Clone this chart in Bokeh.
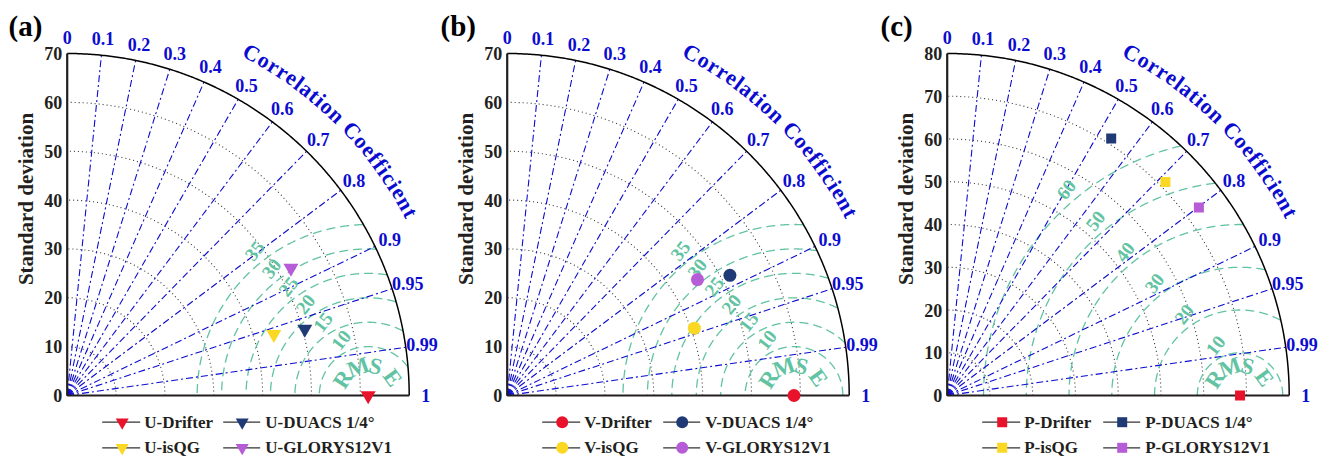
import numpy as np
from bokeh.plotting import figure
from bokeh.layouts import row
from bokeh.models import Range1d
from bokeh.core.properties import value
from bokeh.embed import file_html
from bokeh.resources import INLINE

# ---------------- data ----------------
u_names = ["U-Drifter", "U-DUACS 1/4°", "U-isQG", "U-GLORYS12V1"]
u_std = [61.6, 50.5, 44.1, 52.7]
u_corr = [1.0, 0.963, 0.959, 0.869]

v_names = ["V-Drifter", "V-DUACS 1/4°", "V-isQG", "V-GLORYS12V1"]
v_std = [58.7, 51.8, 40.7, 45.6]
v_corr = [1.0, 0.880, 0.941, 0.854]

p_names = ["P-Drifter", "P-DUACS 1/4°", "P-isQG", "P-GLORYS12V1"]
p_std = [68.5, 71.3, 71.4, 73.5]
p_corr = [1.0, 0.538, 0.715, 0.801]

series_colors = ["#e8132b", "#1f3a75", "#fbd824", "#b65cd6"]

corr_ticks = [0.0, 0.1, 0.2, 0.3, 0.4, 0.5, 0.6, 0.7, 0.8, 0.9, 0.95, 0.99, 1.0]
corr_labels = ["0", "0.1", "0.2", "0.3", "0.4", "0.5", "0.6", "0.7", "0.8", "0.9", "0.95", "0.99", "1"]

std_ticks_uv = [0, 10, 20, 30, 40, 50, 60, 70]
std_ticks_p = [0, 10, 20, 30, 40, 50, 60, 70, 80]

rmse_uv = [10, 15, 20, 25, 30, 35]
rmse_p = [10, 20, 30, 40, 50, 60]

panel_titles = ["(a)", "(b)", "(c)"]
axis_title = "Standard deviation"
arc_title = "Correlation Coefficient"
rmse_title = "RMS E"

# ---------------- style ----------------
FONT = value("Liberation Serif")
BLUE = "#0c0cd0"
GREEN = "#62c3a2"
BLACK = "#231f20"
H = 456
OX, OY = 66.7, 395.0      # origin in screen px
RPX = 342.0               # outer radius in px

# Times-bold advance widths (per 1000 em)
CW = {"C": 722, "o": 500, "r": 444, "e": 444, "l": 278, "a": 500, "t": 333,
      "i": 278, "n": 556, " ": 250, "f": 333, "c": 444, "R": 722, "M": 944,
      "S": 556, "E": 667}


def curved_text(p, text, s, cx, cy, r_px, start_deg, font_px, spacing, color):
    cum = 0.0
    centers = []
    for ch in text:
        w = CW.get(ch, 500) / 1000.0 * font_px
        centers.append(cum + w / 2)
        cum += w + spacing
    xs, ys, angs, chars = [], [], [], []
    for ch, c in zip(text, centers):
        if ch == " ":
            continue
        phi = np.radians(start_deg) - (c - centers[0]) / r_px
        xs.append(cx + r_px / s * np.cos(phi))
        ys.append(cy + r_px / s * np.sin(phi))
        angs.append(phi - np.pi / 2)
        chars.append(ch)
    p.text(xs, ys, text=chars, angle=angs, text_font=FONT, text_font_style="bold",
           text_font_size=f"{font_px}px", text_color=color, text_align="center",
           text_baseline="middle")


def make_panel(names, stds, corrs, marker, msize, lmsize, std_ticks, rmse_levels,
               title, width, title_dx):
    R = std_ticks[-1]
    s = RPX / R
    p = figure(width=width, height=H, output_backend="svg", toolbar_location=None,
               x_range=Range1d(-OX / s, (width - OX) / s),
               y_range=Range1d(-(H - OY) / s, OY / s),
               x_axis_location=None, y_axis_location=None, min_border=0,
               outline_line_color=None, background_fill_color="white",
               border_fill_color="white")
    p.grid.visible = False

    th = np.linspace(0, np.pi / 2, 300)
    # std dotted arcs
    for v in std_ticks[1:-1]:
        p.line(v * np.cos(th), v * np.sin(th), line_color="#333333", line_width=1.1,
               line_dash="1 3")
    # RMSE arcs
    ref = stds[0]
    phi = np.linspace(0, np.pi, 900)
    for r in rmse_levels:
        x = ref + r * np.cos(phi)
        y = r * np.sin(phi)
        inside = (x * x + y * y <= R * R) & (x >= 0)
        xs, ys = [], []
        cur_x, cur_y = [], []
        for xi, yi, ok in zip(x, y, inside):
            if ok:
                cur_x.append(xi)
                cur_y.append(yi)
            elif cur_x:
                xs.append(cur_x)
                ys.append(cur_y)
                cur_x, cur_y = [], []
        if cur_x:
            xs.append(cur_x)
            ys.append(cur_y)
        p.multi_line(xs, ys, line_color=GREEN, line_width=1.3, line_dash="9 5")
    # correlation lines
    for c in corr_ticks[1:-1]:
        a = np.arccos(c)
        p.line([0, R * np.cos(a)], [0, R * np.sin(a)], line_color=BLUE,
               line_width=1.1, line_dash="7 3 2 3")
    # outer arc and axes
    p.line(R * np.cos(th), R * np.sin(th), line_color="black", line_width=1.5)
    p.line([0, 0], [0, R], line_color=BLACK, line_width=2.2)
    p.line([0, R], [0, 0], line_color=BLACK, line_width=2.2)

    # std tick labels
    p.text([-5 / s] * len(std_ticks), std_ticks, text=[str(v) for v in std_ticks],
           text_font=FONT, text_font_style="bold", text_font_size="18px",
           text_color=BLACK, text_align="right", text_baseline="middle")
    # y title
    p.text([-41 / s], [196.5 / s], text=[axis_title], angle=np.pi / 2,
           text_font=FONT, text_font_style="bold", text_font_size="21px",
           text_color=BLACK, text_align="center", text_baseline="middle")
    # corr tick labels
    ang = np.arccos(np.array(corr_ticks))
    rl = 358.5 / s
    p.text(rl * np.cos(ang), rl * np.sin(ang), text=corr_labels, text_font=FONT,
           text_font_style="bold", text_font_size="18px", text_color=BLUE,
           text_align="center", text_baseline="middle")
    curved_text(p, arc_title, s, 0, 0, 389, 61.7, 22, 1.0, BLUE)

    # RMSE labels
    lx, ly = [], []
    for r in rmse_levels:
        a = np.radians(133 - 170.0 / r)
        rr = r + 13 / s
        lx.append(ref + rr * np.cos(a))
        ly.append(rr * np.sin(a))
    p.text(lx, ly, text=[str(r) for r in rmse_levels], angle=np.radians(52),
           text_font=FONT, text_font_style="bold", text_font_size="19px",
           text_color=GREEN, text_align="center", text_baseline="middle")
    curved_text(p, rmse_title, s, ref, 0, 30, 147, 23, 0.5, GREEN)

    # points
    st = np.array(stds)
    cr = np.array(corrs)
    p.scatter(st * cr, st * np.sqrt(1 - cr ** 2), marker=marker, size=msize,
              color=series_colors, line_color=None)

    # legend
    cols = [(35, 73, 55, 77), (156, 193, 175, 198)]
    rows_y = [-26.7, -52.3]
    for i, nm in enumerate(names):
        x0, x1, xm, xt = cols[i % 2]
        yy = rows_y[i // 2] / s
        p.line([x0 / s, x1 / s], [yy, yy], line_color="#333333", line_width=1.2)
        p.scatter([xm / s], [yy], marker=marker, size=lmsize,
                  color=series_colors[i], line_color=None)
        p.text([xt / s], [yy], text=[nm], text_font=FONT, text_font_style="bold",
               text_font_size="17px", text_color=BLACK, text_align="left",
               text_baseline="middle")
    # panel title
    p.text([(title_dx - OX) / s], [(OY - 25) / s], text=[title], text_font=FONT,
           text_font_style="bold", text_font_size="29px", text_color="black",
           text_align="left", text_baseline="middle")
    return p


pa = make_panel(u_names, u_std, u_corr, "inverted_triangle", 15, 13, std_ticks_uv,
                rmse_uv, panel_titles[0], 440, 8)
pb = make_panel(v_names, v_std, v_corr, "circle", 13, 12, std_ticks_uv,
                rmse_uv, panel_titles[1], 440, 0)
pc = make_panel(p_names, p_std, p_corr, "square", 10, 10, std_ticks_p,
                rmse_p, panel_titles[2], 447, 0)

layout = row(pa, pb, pc, spacing=0)
open("out.html", "w").write(file_html(layout, INLINE))
